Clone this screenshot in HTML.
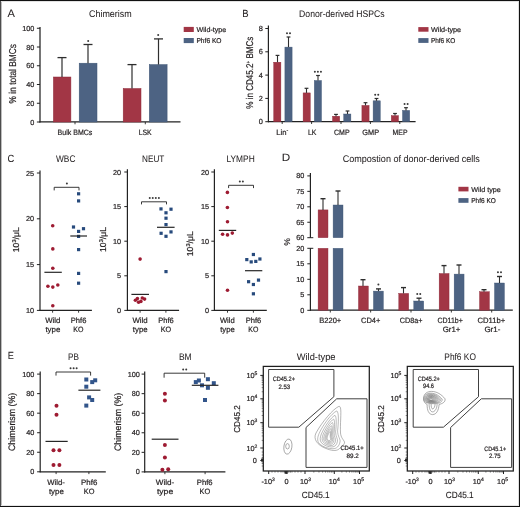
<!DOCTYPE html>
<html><head><meta charset="utf-8"><title>Figure</title>
<style>
html,body{margin:0;padding:0;background:#fff;}
body{width:520px;height:507px;overflow:hidden;}
svg{display:block;font-family:"Liberation Sans", sans-serif;}
text{stroke:#231f20;stroke-width:0.2px;}
text.mid{stroke-width:0.12px;}
text.big{stroke-width:0.05px;}
svg{will-change:transform;text-rendering:geometricPrecision;}
</style></head>
<body>
<svg width="520" height="507" viewBox="0 0 520 507">
<rect x="0" y="0" width="520" height="507" fill="#fff"/>
<text x="7.46" y="16.70" font-size="10.8" fill="#231f20" textLength="7.38" lengthAdjust="spacingAndGlyphs" class="big" >A</text>
<text x="89.02" y="16.90" font-size="9.6" fill="#231f20" textLength="42.56" lengthAdjust="spacingAndGlyphs" class="big" >Chimerism</text>
<line x1="36.90" y1="122.00" x2="40.00" y2="122.00" stroke="#222" stroke-width="1.0" />
<text x="34.40" y="124.59" font-size="7.3" fill="#231f20" text-anchor="end" >0</text>
<line x1="36.90" y1="103.25" x2="40.00" y2="103.25" stroke="#222" stroke-width="1.0" />
<text x="34.40" y="105.84" font-size="7.3" fill="#231f20" text-anchor="end" >20</text>
<line x1="36.90" y1="84.50" x2="40.00" y2="84.50" stroke="#222" stroke-width="1.0" />
<text x="34.40" y="87.09" font-size="7.3" fill="#231f20" text-anchor="end" >40</text>
<line x1="36.90" y1="65.75" x2="40.00" y2="65.75" stroke="#222" stroke-width="1.0" />
<text x="34.40" y="68.34" font-size="7.3" fill="#231f20" text-anchor="end" >60</text>
<line x1="36.90" y1="47.00" x2="40.00" y2="47.00" stroke="#222" stroke-width="1.0" />
<text x="34.40" y="49.59" font-size="7.3" fill="#231f20" text-anchor="end" >80</text>
<line x1="36.90" y1="28.25" x2="40.00" y2="28.25" stroke="#222" stroke-width="1.0" />
<text x="34.40" y="30.84" font-size="7.3" fill="#231f20" text-anchor="end" >100</text>
<line x1="40.00" y1="27.00" x2="40.00" y2="122.50" stroke="#222" stroke-width="1.25" />
<line x1="39.40" y1="121.90" x2="180.50" y2="121.90" stroke="#222" stroke-width="1.25" />
<line x1="75.00" y1="122.00" x2="75.00" y2="124.30" stroke="#222" stroke-width="0.9" />
<line x1="145.30" y1="122.00" x2="145.30" y2="124.30" stroke="#222" stroke-width="0.9" />
<rect x="53.40" y="77.00" width="17.50" height="45.00" fill="#a23645" stroke="#8d2a3a" stroke-width="0.5"/>
<rect x="79.20" y="63.20" width="17.80" height="58.80" fill="#4d6383" stroke="#3d5474" stroke-width="0.5"/>
<rect x="123.20" y="88.50" width="17.80" height="33.50" fill="#a23645" stroke="#8d2a3a" stroke-width="0.5"/>
<rect x="149.30" y="64.60" width="17.80" height="57.40" fill="#4d6383" stroke="#3d5474" stroke-width="0.5"/>
<line x1="62.00" y1="57.60" x2="62.00" y2="77.00" stroke="#2e2e2e" stroke-width="1.2" />
<line x1="57.50" y1="57.60" x2="66.50" y2="57.60" stroke="#2e2e2e" stroke-width="1.3" />
<line x1="88.00" y1="44.50" x2="88.00" y2="63.20" stroke="#2e2e2e" stroke-width="1.2" />
<line x1="83.50" y1="44.50" x2="92.50" y2="44.50" stroke="#2e2e2e" stroke-width="1.3" />
<line x1="132.00" y1="64.60" x2="132.00" y2="88.50" stroke="#2e2e2e" stroke-width="1.2" />
<line x1="127.50" y1="64.60" x2="136.50" y2="64.60" stroke="#2e2e2e" stroke-width="1.3" />
<line x1="158.50" y1="38.90" x2="158.50" y2="64.60" stroke="#2e2e2e" stroke-width="1.2" />
<line x1="154.00" y1="38.90" x2="163.00" y2="38.90" stroke="#2e2e2e" stroke-width="1.3" />
<circle cx="88.20" cy="41.00" r="1.0" fill="#3a3a3a"/>
<circle cx="158.20" cy="35.10" r="1.0" fill="#3a3a3a"/>
<text x="57.62" y="134.70" font-size="7.7" fill="#231f20" textLength="34.77" lengthAdjust="spacingAndGlyphs" >Bulk BMCs</text>
<text x="138.72" y="134.70" font-size="7.7" fill="#231f20" textLength="12.97" lengthAdjust="spacingAndGlyphs" >LSK</text>
<rect x="183.70" y="26.90" width="10.10" height="5.10" fill="#a23645"/>
<rect x="183.70" y="38.00" width="10.10" height="5.10" fill="#4d6383"/>
<text x="196.45" y="31.70" font-size="7" fill="#231f20" textLength="29.90" lengthAdjust="spacingAndGlyphs" >Wild-type</text>
<text x="196.45" y="42.80" font-size="7" fill="#231f20" textLength="25.10" lengthAdjust="spacingAndGlyphs" >Phf6 KO</text>
<text x="0" y="0" font-size="10.0" fill="#231f20" text-anchor="middle" textLength="59.40" lengthAdjust="spacingAndGlyphs" transform="translate(16.40 73.70) rotate(-90)">% in total BMCs</text>
<text x="242.18" y="16.60" font-size="10.4" fill="#231f20" textLength="6.34" lengthAdjust="spacingAndGlyphs" class="big" >B</text>
<text x="299.12" y="17.30" font-size="9.6" fill="#231f20" textLength="85.56" lengthAdjust="spacingAndGlyphs" class="big" >Donor-derived HSPCs</text>
<line x1="265.30" y1="121.70" x2="268.40" y2="121.70" stroke="#222" stroke-width="1.0" />
<text x="262.80" y="124.33" font-size="7.4" fill="#231f20" text-anchor="end" >0</text>
<line x1="265.30" y1="98.40" x2="268.40" y2="98.40" stroke="#222" stroke-width="1.0" />
<text x="262.80" y="101.03" font-size="7.4" fill="#231f20" text-anchor="end" >2</text>
<line x1="265.30" y1="75.10" x2="268.40" y2="75.10" stroke="#222" stroke-width="1.0" />
<text x="262.80" y="77.73" font-size="7.4" fill="#231f20" text-anchor="end" >4</text>
<line x1="265.30" y1="51.80" x2="268.40" y2="51.80" stroke="#222" stroke-width="1.0" />
<text x="262.80" y="54.43" font-size="7.4" fill="#231f20" text-anchor="end" >6</text>
<line x1="265.30" y1="28.50" x2="268.40" y2="28.50" stroke="#222" stroke-width="1.0" />
<text x="262.80" y="31.13" font-size="7.4" fill="#231f20" text-anchor="end" >8</text>
<line x1="268.40" y1="25.50" x2="268.40" y2="122.20" stroke="#222" stroke-width="1.2" />
<line x1="268.00" y1="121.70" x2="415.60" y2="121.70" stroke="#222" stroke-width="1.2" />
<line x1="282.20" y1="121.70" x2="282.20" y2="124.00" stroke="#222" stroke-width="0.9" />
<rect x="273.70" y="62.20" width="7.20" height="59.50" fill="#a23645" stroke="#8d2a3a" stroke-width="0.4"/>
<rect x="284.90" y="47.10" width="7.20" height="74.60" fill="#4d6383" stroke="#3d5474" stroke-width="0.4"/>
<line x1="277.50" y1="55.40" x2="277.50" y2="62.20" stroke="#2e2e2e" stroke-width="1.1" />
<line x1="275.60" y1="55.40" x2="279.40" y2="55.40" stroke="#2e2e2e" stroke-width="1.2100000000000002" />
<line x1="288.50" y1="37.00" x2="288.50" y2="47.10" stroke="#2e2e2e" stroke-width="1.1" />
<line x1="286.60" y1="37.00" x2="290.40" y2="37.00" stroke="#2e2e2e" stroke-width="1.2100000000000002" />
<circle cx="286.98" cy="33.20" r="1.0" fill="#3a3a3a"/>
<circle cx="290.03" cy="33.20" r="1.0" fill="#3a3a3a"/>
<line x1="311.60" y1="121.70" x2="311.60" y2="124.00" stroke="#222" stroke-width="0.9" />
<rect x="303.10" y="92.90" width="7.20" height="28.80" fill="#a23645" stroke="#8d2a3a" stroke-width="0.4"/>
<rect x="314.30" y="80.50" width="7.20" height="41.20" fill="#4d6383" stroke="#3d5474" stroke-width="0.4"/>
<line x1="306.50" y1="88.30" x2="306.50" y2="92.90" stroke="#2e2e2e" stroke-width="1.1" />
<line x1="304.60" y1="88.30" x2="308.40" y2="88.30" stroke="#2e2e2e" stroke-width="1.2100000000000002" />
<line x1="318.00" y1="75.50" x2="318.00" y2="80.50" stroke="#2e2e2e" stroke-width="1.1" />
<line x1="316.10" y1="75.50" x2="319.90" y2="75.50" stroke="#2e2e2e" stroke-width="1.2100000000000002" />
<circle cx="314.85" cy="71.70" r="1.0" fill="#3a3a3a"/>
<circle cx="317.90" cy="71.70" r="1.0" fill="#3a3a3a"/>
<circle cx="320.95" cy="71.70" r="1.0" fill="#3a3a3a"/>
<line x1="341.00" y1="121.70" x2="341.00" y2="124.00" stroke="#222" stroke-width="0.9" />
<rect x="332.50" y="116.20" width="7.20" height="5.50" fill="#a23645" stroke="#8d2a3a" stroke-width="0.4"/>
<rect x="343.70" y="114.00" width="7.20" height="7.70" fill="#4d6383" stroke="#3d5474" stroke-width="0.4"/>
<line x1="336.00" y1="114.40" x2="336.00" y2="116.20" stroke="#2e2e2e" stroke-width="1.1" />
<line x1="334.10" y1="114.40" x2="337.90" y2="114.40" stroke="#2e2e2e" stroke-width="1.2100000000000002" />
<line x1="347.50" y1="111.00" x2="347.50" y2="114.00" stroke="#2e2e2e" stroke-width="1.1" />
<line x1="345.60" y1="111.00" x2="349.40" y2="111.00" stroke="#2e2e2e" stroke-width="1.2100000000000002" />
<line x1="370.40" y1="121.70" x2="370.40" y2="124.00" stroke="#222" stroke-width="0.9" />
<rect x="361.90" y="105.40" width="7.20" height="16.30" fill="#a23645" stroke="#8d2a3a" stroke-width="0.4"/>
<rect x="373.10" y="100.80" width="7.20" height="20.90" fill="#4d6383" stroke="#3d5474" stroke-width="0.4"/>
<line x1="365.50" y1="102.70" x2="365.50" y2="105.40" stroke="#2e2e2e" stroke-width="1.1" />
<line x1="363.60" y1="102.70" x2="367.40" y2="102.70" stroke="#2e2e2e" stroke-width="1.2100000000000002" />
<line x1="376.50" y1="98.50" x2="376.50" y2="100.80" stroke="#2e2e2e" stroke-width="1.1" />
<line x1="374.60" y1="98.50" x2="378.40" y2="98.50" stroke="#2e2e2e" stroke-width="1.2100000000000002" />
<circle cx="375.18" cy="94.70" r="1.0" fill="#3a3a3a"/>
<circle cx="378.23" cy="94.70" r="1.0" fill="#3a3a3a"/>
<line x1="399.80" y1="121.70" x2="399.80" y2="124.00" stroke="#222" stroke-width="0.9" />
<rect x="391.30" y="115.60" width="7.20" height="6.10" fill="#a23645" stroke="#8d2a3a" stroke-width="0.4"/>
<rect x="402.50" y="110.40" width="7.20" height="11.30" fill="#4d6383" stroke="#3d5474" stroke-width="0.4"/>
<line x1="395.00" y1="113.50" x2="395.00" y2="115.60" stroke="#2e2e2e" stroke-width="1.1" />
<line x1="393.10" y1="113.50" x2="396.90" y2="113.50" stroke="#2e2e2e" stroke-width="1.2100000000000002" />
<line x1="406.00" y1="107.70" x2="406.00" y2="110.40" stroke="#2e2e2e" stroke-width="1.1" />
<line x1="404.10" y1="107.70" x2="407.90" y2="107.70" stroke="#2e2e2e" stroke-width="1.2100000000000002" />
<circle cx="404.57" cy="103.90" r="1.0" fill="#3a3a3a"/>
<circle cx="407.62" cy="103.90" r="1.0" fill="#3a3a3a"/>
<text x="276.2" y="134.6" font-size="7.7" fill="#231f20">Lin<tspan font-size="5.2" dy="-2.6">-</tspan></text>
<text x="307.92" y="134.60" font-size="7.7" fill="#231f20" textLength="8.47" lengthAdjust="spacingAndGlyphs" >LK</text>
<text x="334.01" y="134.60" font-size="7.7" fill="#231f20" textLength="15.57" lengthAdjust="spacingAndGlyphs" >CMP</text>
<text x="362.31" y="134.60" font-size="7.7" fill="#231f20" textLength="16.77" lengthAdjust="spacingAndGlyphs" >GMP</text>
<text x="392.62" y="134.60" font-size="7.7" fill="#231f20" textLength="14.87" lengthAdjust="spacingAndGlyphs" >MEP</text>
<rect x="418.30" y="27.10" width="10.20" height="4.60" fill="#a23645"/>
<rect x="418.30" y="38.10" width="10.20" height="4.80" fill="#4d6383"/>
<text x="430.95" y="31.70" font-size="7" fill="#231f20" textLength="30.20" lengthAdjust="spacingAndGlyphs" >Wild-type</text>
<text x="430.95" y="42.70" font-size="7" fill="#231f20" textLength="24.40" lengthAdjust="spacingAndGlyphs" >Phf6 KO</text>
<text x="0" y="0" font-size="9.8" fill="#231f20" text-anchor="middle" textLength="72.2" lengthAdjust="spacingAndGlyphs" transform="translate(253.3 72.7) rotate(-90)">% in CD45.2<tspan font-size="5.5" dy="-3.2">+</tspan><tspan dy="3.2"> BMCs</tspan></text>
<text x="7.48" y="161.70" font-size="10.4" fill="#231f20" textLength="6.84" lengthAdjust="spacingAndGlyphs" class="big" >C</text>
<text x="56.02" y="162.00" font-size="9.6" fill="#231f20" textLength="19.36" lengthAdjust="spacingAndGlyphs" class="big" >WBC</text>
<text x="142.12" y="162.00" font-size="9.5" fill="#231f20" textLength="22.25" lengthAdjust="spacingAndGlyphs" class="big" >NEUT</text>
<text x="226.53" y="162.00" font-size="9.5" fill="#231f20" textLength="28.15" lengthAdjust="spacingAndGlyphs" class="big" >LYMPH</text>
<line x1="36.90" y1="310.40" x2="40.00" y2="310.40" stroke="#222" stroke-width="1.0" />
<text x="34.10" y="312.99" font-size="7.3" fill="#231f20" text-anchor="end" >10</text>
<line x1="36.90" y1="264.60" x2="40.00" y2="264.60" stroke="#222" stroke-width="1.0" />
<text x="34.10" y="267.19" font-size="7.3" fill="#231f20" text-anchor="end" >15</text>
<line x1="36.90" y1="218.80" x2="40.00" y2="218.80" stroke="#222" stroke-width="1.0" />
<text x="34.10" y="221.39" font-size="7.3" fill="#231f20" text-anchor="end" >20</text>
<line x1="36.90" y1="173.00" x2="40.00" y2="173.00" stroke="#222" stroke-width="1.0" />
<text x="34.10" y="175.59" font-size="7.3" fill="#231f20" text-anchor="end" >25</text>
<line x1="40.00" y1="170.50" x2="40.00" y2="310.90" stroke="#222" stroke-width="1.2" />
<line x1="39.50" y1="310.40" x2="91.90" y2="310.40" stroke="#222" stroke-width="1.2" />
<line x1="52.60" y1="310.40" x2="52.60" y2="312.70" stroke="#222" stroke-width="0.9" />
<line x1="78.60" y1="310.40" x2="78.60" y2="312.70" stroke="#222" stroke-width="0.9" />
<polyline points="54.20,190.40 54.20,187.30 79.00,187.30 79.00,190.40" fill="none" stroke="#222" stroke-width="0.9"/>
<circle cx="66.90" cy="183.50" r="1.0" fill="#3a3a3a"/>
<circle cx="52.70" cy="225.80" r="1.8" fill="#9e1b32"/>
<circle cx="52.80" cy="248.90" r="1.8" fill="#9e1b32"/>
<circle cx="52.80" cy="268.30" r="1.8" fill="#9e1b32"/>
<circle cx="47.90" cy="286.30" r="1.8" fill="#9e1b32"/>
<circle cx="52.80" cy="287.10" r="1.8" fill="#9e1b32"/>
<circle cx="57.80" cy="285.00" r="1.8" fill="#9e1b32"/>
<circle cx="52.80" cy="305.70" r="1.8" fill="#9e1b32"/>
<rect x="77.00" y="192.20" width="3.2" height="3.2" fill="#274a7c"/>
<rect x="77.00" y="199.30" width="3.2" height="3.2" fill="#274a7c"/>
<rect x="71.90" y="225.40" width="3.2" height="3.2" fill="#274a7c"/>
<rect x="81.90" y="227.10" width="3.2" height="3.2" fill="#274a7c"/>
<rect x="77.00" y="229.80" width="3.2" height="3.2" fill="#274a7c"/>
<rect x="77.00" y="234.80" width="3.2" height="3.2" fill="#274a7c"/>
<rect x="77.00" y="248.00" width="3.2" height="3.2" fill="#274a7c"/>
<rect x="77.00" y="271.80" width="3.2" height="3.2" fill="#274a7c"/>
<rect x="77.00" y="281.60" width="3.2" height="3.2" fill="#274a7c"/>
<line x1="44.40" y1="272.30" x2="61.80" y2="272.30" stroke="#262626" stroke-width="1.2" />
<line x1="70.30" y1="236.00" x2="87.00" y2="236.00" stroke="#262626" stroke-width="1.2" />
<text x="45.22" y="323.10" font-size="7.7" fill="#231f20" textLength="15.17" lengthAdjust="spacingAndGlyphs" >Wild</text>
<text x="45.41" y="331.90" font-size="7.7" fill="#231f20" textLength="14.97" lengthAdjust="spacingAndGlyphs" >type</text>
<text x="70.81" y="323.10" font-size="7.7" fill="#231f20" textLength="15.57" lengthAdjust="spacingAndGlyphs" >Phf6</text>
<text x="73.31" y="331.90" font-size="7.7" fill="#231f20" textLength="10.17" lengthAdjust="spacingAndGlyphs" >KO</text>
<text x="0" y="0" font-size="8.7" fill="#231f20" text-anchor="middle" transform="translate(19.20 239.70) rotate(-90)">10<tspan font-size="5.65" dy="-3.31">3</tspan><tspan dy="3.31">/μL</tspan></text>
<line x1="124.30" y1="310.40" x2="127.40" y2="310.40" stroke="#222" stroke-width="1.0" />
<text x="121.10" y="312.99" font-size="7.3" fill="#231f20" text-anchor="end" >0</text>
<line x1="124.30" y1="275.80" x2="127.40" y2="275.80" stroke="#222" stroke-width="1.0" />
<text x="121.10" y="278.39" font-size="7.3" fill="#231f20" text-anchor="end" >5</text>
<line x1="124.30" y1="241.20" x2="127.40" y2="241.20" stroke="#222" stroke-width="1.0" />
<text x="121.10" y="243.79" font-size="7.3" fill="#231f20" text-anchor="end" >10</text>
<line x1="124.30" y1="206.60" x2="127.40" y2="206.60" stroke="#222" stroke-width="1.0" />
<text x="121.10" y="209.19" font-size="7.3" fill="#231f20" text-anchor="end" >15</text>
<line x1="124.30" y1="172.00" x2="127.40" y2="172.00" stroke="#222" stroke-width="1.0" />
<text x="121.10" y="174.59" font-size="7.3" fill="#231f20" text-anchor="end" >20</text>
<line x1="127.40" y1="169.30" x2="127.40" y2="310.90" stroke="#222" stroke-width="1.2" />
<line x1="126.90" y1="310.40" x2="179.10" y2="310.40" stroke="#222" stroke-width="1.2" />
<line x1="140.10" y1="310.40" x2="140.10" y2="312.70" stroke="#222" stroke-width="0.9" />
<line x1="165.90" y1="310.40" x2="165.90" y2="312.70" stroke="#222" stroke-width="0.9" />
<polyline points="141.50,204.40 141.50,201.80 166.50,201.80 166.50,204.40" fill="none" stroke="#222" stroke-width="0.9"/>
<circle cx="149.73" cy="198.00" r="1.0" fill="#3a3a3a"/>
<circle cx="152.78" cy="198.00" r="1.0" fill="#3a3a3a"/>
<circle cx="155.83" cy="198.00" r="1.0" fill="#3a3a3a"/>
<circle cx="158.88" cy="198.00" r="1.0" fill="#3a3a3a"/>
<circle cx="140.10" cy="259.10" r="1.8" fill="#9e1b32"/>
<circle cx="135.40" cy="300.30" r="1.8" fill="#9e1b32"/>
<circle cx="137.40" cy="298.60" r="1.8" fill="#9e1b32"/>
<circle cx="138.60" cy="302.30" r="1.8" fill="#9e1b32"/>
<circle cx="140.90" cy="301.40" r="1.8" fill="#9e1b32"/>
<circle cx="142.30" cy="298.00" r="1.8" fill="#9e1b32"/>
<circle cx="144.60" cy="299.10" r="1.8" fill="#9e1b32"/>
<rect x="159.40" y="207.30" width="3.2" height="3.2" fill="#274a7c"/>
<rect x="169.40" y="207.60" width="3.2" height="3.2" fill="#274a7c"/>
<rect x="164.40" y="211.20" width="3.2" height="3.2" fill="#274a7c"/>
<rect x="164.40" y="216.60" width="3.2" height="3.2" fill="#274a7c"/>
<rect x="164.40" y="223.00" width="3.2" height="3.2" fill="#274a7c"/>
<rect x="169.40" y="230.30" width="3.2" height="3.2" fill="#274a7c"/>
<rect x="159.50" y="231.70" width="3.2" height="3.2" fill="#274a7c"/>
<rect x="164.40" y="234.70" width="3.2" height="3.2" fill="#274a7c"/>
<rect x="164.40" y="270.00" width="3.2" height="3.2" fill="#274a7c"/>
<line x1="131.40" y1="294.40" x2="149.00" y2="294.40" stroke="#262626" stroke-width="1.2" />
<line x1="157.00" y1="227.30" x2="174.60" y2="227.30" stroke="#262626" stroke-width="1.2" />
<text x="132.42" y="323.10" font-size="7.7" fill="#231f20" textLength="15.27" lengthAdjust="spacingAndGlyphs" >Wild</text>
<text x="132.81" y="331.90" font-size="7.7" fill="#231f20" textLength="14.87" lengthAdjust="spacingAndGlyphs" >type</text>
<text x="158.22" y="323.10" font-size="7.7" fill="#231f20" textLength="15.47" lengthAdjust="spacingAndGlyphs" >Phf6</text>
<text x="160.72" y="331.90" font-size="7.7" fill="#231f20" textLength="10.47" lengthAdjust="spacingAndGlyphs" >KO</text>
<text x="0" y="0" font-size="8.7" fill="#231f20" text-anchor="middle" transform="translate(106.40 239.50) rotate(-90)">10<tspan font-size="5.65" dy="-3.31">3</tspan><tspan dy="3.31">/μL</tspan></text>
<line x1="211.30" y1="310.40" x2="214.40" y2="310.40" stroke="#222" stroke-width="1.0" />
<text x="209.00" y="312.99" font-size="7.3" fill="#231f20" text-anchor="end" >0</text>
<line x1="211.30" y1="275.80" x2="214.40" y2="275.80" stroke="#222" stroke-width="1.0" />
<text x="209.00" y="278.39" font-size="7.3" fill="#231f20" text-anchor="end" >5</text>
<line x1="211.30" y1="241.20" x2="214.40" y2="241.20" stroke="#222" stroke-width="1.0" />
<text x="209.00" y="243.79" font-size="7.3" fill="#231f20" text-anchor="end" >10</text>
<line x1="211.30" y1="206.60" x2="214.40" y2="206.60" stroke="#222" stroke-width="1.0" />
<text x="209.00" y="209.19" font-size="7.3" fill="#231f20" text-anchor="end" >15</text>
<line x1="211.30" y1="172.00" x2="214.40" y2="172.00" stroke="#222" stroke-width="1.0" />
<text x="209.00" y="174.59" font-size="7.3" fill="#231f20" text-anchor="end" >20</text>
<line x1="214.40" y1="169.30" x2="214.40" y2="310.90" stroke="#222" stroke-width="1.2" />
<line x1="213.90" y1="310.40" x2="266.80" y2="310.40" stroke="#222" stroke-width="1.2" />
<line x1="227.50" y1="310.40" x2="227.50" y2="312.70" stroke="#222" stroke-width="0.9" />
<line x1="253.40" y1="310.40" x2="253.40" y2="312.70" stroke="#222" stroke-width="0.9" />
<polyline points="228.60,188.10 228.60,185.30 253.50,185.30 253.50,188.10" fill="none" stroke="#222" stroke-width="0.9"/>
<circle cx="239.83" cy="181.50" r="1.0" fill="#3a3a3a"/>
<circle cx="242.88" cy="181.50" r="1.0" fill="#3a3a3a"/>
<circle cx="227.40" cy="192.40" r="1.8" fill="#9e1b32"/>
<circle cx="227.40" cy="207.50" r="1.8" fill="#9e1b32"/>
<circle cx="227.50" cy="221.70" r="1.8" fill="#9e1b32"/>
<circle cx="222.60" cy="234.20" r="1.8" fill="#9e1b32"/>
<circle cx="227.50" cy="234.90" r="1.8" fill="#9e1b32"/>
<circle cx="232.30" cy="233.10" r="1.8" fill="#9e1b32"/>
<circle cx="227.50" cy="290.20" r="1.8" fill="#9e1b32"/>
<rect x="251.80" y="252.90" width="3.2" height="3.2" fill="#274a7c"/>
<rect x="245.20" y="258.00" width="3.2" height="3.2" fill="#274a7c"/>
<rect x="249.60" y="260.30" width="3.2" height="3.2" fill="#274a7c"/>
<rect x="254.20" y="259.80" width="3.2" height="3.2" fill="#274a7c"/>
<rect x="258.30" y="257.40" width="3.2" height="3.2" fill="#274a7c"/>
<rect x="247.00" y="280.10" width="3.2" height="3.2" fill="#274a7c"/>
<rect x="251.80" y="282.90" width="3.2" height="3.2" fill="#274a7c"/>
<rect x="256.90" y="278.50" width="3.2" height="3.2" fill="#274a7c"/>
<rect x="251.80" y="292.20" width="3.2" height="3.2" fill="#274a7c"/>
<line x1="218.80" y1="230.40" x2="236.20" y2="230.40" stroke="#262626" stroke-width="1.2" />
<line x1="245.00" y1="270.70" x2="262.30" y2="270.70" stroke="#262626" stroke-width="1.2" />
<text x="219.92" y="323.10" font-size="7.7" fill="#231f20" textLength="14.87" lengthAdjust="spacingAndGlyphs" >Wild</text>
<text x="220.22" y="331.90" font-size="7.7" fill="#231f20" textLength="14.57" lengthAdjust="spacingAndGlyphs" >type</text>
<text x="245.72" y="323.10" font-size="7.7" fill="#231f20" textLength="15.57" lengthAdjust="spacingAndGlyphs" >Phf6</text>
<text x="248.31" y="331.90" font-size="7.7" fill="#231f20" textLength="10.07" lengthAdjust="spacingAndGlyphs" >KO</text>
<text x="0" y="0" font-size="8.7" fill="#231f20" text-anchor="middle" transform="translate(193.00 243.70) rotate(-90)">10<tspan font-size="5.65" dy="-3.31">3</tspan><tspan dy="3.31">/μL</tspan></text>
<text x="281.77" y="161.30" font-size="10.6" fill="#231f20" textLength="8.46" lengthAdjust="spacingAndGlyphs" class="big" >D</text>
<text x="342.72" y="161.70" font-size="9.6" fill="#231f20" textLength="137.06" lengthAdjust="spacingAndGlyphs" class="big" >Compostion of donor-derived cells</text>
<line x1="307.30" y1="222.25" x2="310.40" y2="222.25" stroke="#222" stroke-width="1.0" />
<text x="304.40" y="224.84" font-size="7.3" fill="#231f20" text-anchor="end" >65</text>
<line x1="307.30" y1="206.80" x2="310.40" y2="206.80" stroke="#222" stroke-width="1.0" />
<text x="304.40" y="209.39" font-size="7.3" fill="#231f20" text-anchor="end" >70</text>
<line x1="307.30" y1="191.35" x2="310.40" y2="191.35" stroke="#222" stroke-width="1.0" />
<text x="304.40" y="193.94" font-size="7.3" fill="#231f20" text-anchor="end" >75</text>
<line x1="307.30" y1="175.90" x2="310.40" y2="175.90" stroke="#222" stroke-width="1.0" />
<text x="304.40" y="178.49" font-size="7.3" fill="#231f20" text-anchor="end" >80</text>
<line x1="307.30" y1="310.30" x2="310.40" y2="310.30" stroke="#222" stroke-width="1.0" />
<text x="304.40" y="312.89" font-size="7.3" fill="#231f20" text-anchor="end" >0</text>
<line x1="307.30" y1="294.80" x2="310.40" y2="294.80" stroke="#222" stroke-width="1.0" />
<text x="304.40" y="297.39" font-size="7.3" fill="#231f20" text-anchor="end" >5</text>
<line x1="307.30" y1="279.30" x2="310.40" y2="279.30" stroke="#222" stroke-width="1.0" />
<text x="304.40" y="281.89" font-size="7.3" fill="#231f20" text-anchor="end" >10</text>
<line x1="307.30" y1="263.80" x2="310.40" y2="263.80" stroke="#222" stroke-width="1.0" />
<text x="304.40" y="266.39" font-size="7.3" fill="#231f20" text-anchor="end" >15</text>
<line x1="307.30" y1="237.70" x2="313.30" y2="237.70" stroke="#222" stroke-width="1.0" />
<text x="304.40" y="240.29" font-size="7.3" fill="#231f20" text-anchor="end" >60</text>
<line x1="307.30" y1="248.30" x2="313.30" y2="248.30" stroke="#222" stroke-width="1.0" />
<text x="304.40" y="250.89" font-size="7.3" fill="#231f20" text-anchor="end" >20</text>
<line x1="310.40" y1="173.10" x2="310.40" y2="237.70" stroke="#222" stroke-width="1.2" />
<line x1="310.40" y1="248.30" x2="310.40" y2="310.70" stroke="#222" stroke-width="1.2" />
<line x1="310.00" y1="310.20" x2="512.80" y2="310.20" stroke="#222" stroke-width="1.2" />
<line x1="330.30" y1="310.20" x2="330.30" y2="312.50" stroke="#222" stroke-width="0.9" />
<rect x="318.10" y="209.90" width="9.90" height="27.80" fill="#a23645" stroke="#8d2a3a" stroke-width="0.4"/>
<rect x="318.10" y="248.30" width="9.90" height="61.90" fill="#a23645" stroke="#8d2a3a" stroke-width="0.4"/>
<rect x="333.10" y="205.00" width="9.90" height="32.70" fill="#4d6383" stroke="#3d5474" stroke-width="0.4"/>
<rect x="333.10" y="248.30" width="9.90" height="61.90" fill="#4d6383" stroke="#3d5474" stroke-width="0.4"/>
<line x1="323.00" y1="198.70" x2="323.00" y2="209.90" stroke="#2e2e2e" stroke-width="1.1" />
<line x1="320.50" y1="198.70" x2="325.50" y2="198.70" stroke="#2e2e2e" stroke-width="1.4" />
<line x1="338.00" y1="191.00" x2="338.00" y2="205.00" stroke="#2e2e2e" stroke-width="1.1" />
<line x1="335.50" y1="191.00" x2="340.50" y2="191.00" stroke="#2e2e2e" stroke-width="1.4" />
<line x1="370.65" y1="310.20" x2="370.65" y2="312.50" stroke="#222" stroke-width="0.9" />
<rect x="358.45" y="286.00" width="9.90" height="24.20" fill="#a23645" stroke="#8d2a3a" stroke-width="0.4"/>
<rect x="373.45" y="291.10" width="9.90" height="19.10" fill="#4d6383" stroke="#3d5474" stroke-width="0.4"/>
<line x1="363.00" y1="279.70" x2="363.00" y2="286.00" stroke="#2e2e2e" stroke-width="1.1" />
<line x1="360.50" y1="279.70" x2="365.50" y2="279.70" stroke="#2e2e2e" stroke-width="1.4" />
<line x1="378.50" y1="288.90" x2="378.50" y2="291.10" stroke="#2e2e2e" stroke-width="1.1" />
<line x1="376.00" y1="288.90" x2="381.00" y2="288.90" stroke="#2e2e2e" stroke-width="1.4" />
<circle cx="378.40" cy="284.60" r="1.0" fill="#3a3a3a"/>
<line x1="411.00" y1="310.20" x2="411.00" y2="312.50" stroke="#222" stroke-width="0.9" />
<rect x="398.80" y="293.40" width="9.90" height="16.80" fill="#a23645" stroke="#8d2a3a" stroke-width="0.4"/>
<rect x="413.80" y="301.00" width="9.90" height="9.20" fill="#4d6383" stroke="#3d5474" stroke-width="0.4"/>
<line x1="403.50" y1="287.60" x2="403.50" y2="293.40" stroke="#2e2e2e" stroke-width="1.1" />
<line x1="401.00" y1="287.60" x2="406.00" y2="287.60" stroke="#2e2e2e" stroke-width="1.4" />
<line x1="419.00" y1="298.20" x2="419.00" y2="301.00" stroke="#2e2e2e" stroke-width="1.1" />
<line x1="416.50" y1="298.20" x2="421.50" y2="298.20" stroke="#2e2e2e" stroke-width="1.4" />
<circle cx="417.23" cy="293.90" r="1.0" fill="#3a3a3a"/>
<circle cx="420.28" cy="293.90" r="1.0" fill="#3a3a3a"/>
<line x1="451.35" y1="310.20" x2="451.35" y2="312.50" stroke="#222" stroke-width="0.9" />
<rect x="439.15" y="273.50" width="9.90" height="36.70" fill="#a23645" stroke="#8d2a3a" stroke-width="0.4"/>
<rect x="454.15" y="274.10" width="9.90" height="36.10" fill="#4d6383" stroke="#3d5474" stroke-width="0.4"/>
<line x1="444.00" y1="265.60" x2="444.00" y2="273.50" stroke="#2e2e2e" stroke-width="1.1" />
<line x1="441.50" y1="265.60" x2="446.50" y2="265.60" stroke="#2e2e2e" stroke-width="1.4" />
<line x1="459.00" y1="265.00" x2="459.00" y2="274.10" stroke="#2e2e2e" stroke-width="1.1" />
<line x1="456.50" y1="265.00" x2="461.50" y2="265.00" stroke="#2e2e2e" stroke-width="1.4" />
<line x1="491.70" y1="310.20" x2="491.70" y2="312.50" stroke="#222" stroke-width="0.9" />
<rect x="479.50" y="291.70" width="9.90" height="18.50" fill="#a23645" stroke="#8d2a3a" stroke-width="0.4"/>
<rect x="494.50" y="283.00" width="9.90" height="27.20" fill="#4d6383" stroke="#3d5474" stroke-width="0.4"/>
<line x1="484.00" y1="289.70" x2="484.00" y2="291.70" stroke="#2e2e2e" stroke-width="1.1" />
<line x1="481.50" y1="289.70" x2="486.50" y2="289.70" stroke="#2e2e2e" stroke-width="1.4" />
<line x1="499.50" y1="276.50" x2="499.50" y2="283.00" stroke="#2e2e2e" stroke-width="1.1" />
<line x1="497.00" y1="276.50" x2="502.00" y2="276.50" stroke="#2e2e2e" stroke-width="1.4" />
<circle cx="497.93" cy="272.20" r="1.0" fill="#3a3a3a"/>
<circle cx="500.98" cy="272.20" r="1.0" fill="#3a3a3a"/>
<text x="319.22" y="323.10" font-size="7.7" fill="#231f20" textLength="22.07" lengthAdjust="spacingAndGlyphs" >B220+</text>
<text x="361.01" y="323.10" font-size="7.7" fill="#231f20" textLength="19.37" lengthAdjust="spacingAndGlyphs" >CD4+</text>
<text x="399.81" y="323.10" font-size="7.7" fill="#231f20" textLength="22.77" lengthAdjust="spacingAndGlyphs" >CD8a+</text>
<text x="437.42" y="323.10" font-size="7.7" fill="#231f20" textLength="25.47" lengthAdjust="spacingAndGlyphs" >CD11b+</text>
<text x="442.72" y="332.30" font-size="7.7" fill="#231f20" textLength="17.77" lengthAdjust="spacingAndGlyphs" >Gr1+</text>
<text x="477.51" y="323.10" font-size="7.7" fill="#231f20" textLength="27.77" lengthAdjust="spacingAndGlyphs" >CD11b+</text>
<text x="484.42" y="332.30" font-size="7.7" fill="#231f20" textLength="15.97" lengthAdjust="spacingAndGlyphs" >Gr1-</text>
<rect x="458.40" y="186.80" width="10.10" height="4.60" fill="#a23645"/>
<rect x="458.40" y="198.10" width="10.10" height="4.70" fill="#4d6383"/>
<text x="471.25" y="191.70" font-size="7" fill="#231f20" textLength="29.60" lengthAdjust="spacingAndGlyphs" >Wild type</text>
<text x="471.25" y="202.80" font-size="7" fill="#231f20" textLength="24.50" lengthAdjust="spacingAndGlyphs" >Phf6 KO</text>
<text x="0" y="0" font-size="8.2" fill="#231f20" text-anchor="middle" transform="translate(289.60 241.80) rotate(-90)">%</text>
<text x="7.78" y="359.30" font-size="10.4" fill="#231f20" textLength="6.14" lengthAdjust="spacingAndGlyphs" class="big" >E</text>
<text x="68.12" y="359.70" font-size="9.6" fill="#231f20" textLength="10.86" lengthAdjust="spacingAndGlyphs" class="big" >PB</text>
<text x="178.92" y="360.10" font-size="9.6" fill="#231f20" textLength="12.76" lengthAdjust="spacingAndGlyphs" class="big" >BM</text>
<line x1="37.10" y1="471.80" x2="40.20" y2="471.80" stroke="#222" stroke-width="1.0" />
<text x="34.40" y="474.39" font-size="7.3" fill="#231f20" text-anchor="end" >0</text>
<line x1="37.10" y1="452.26" x2="40.20" y2="452.26" stroke="#222" stroke-width="1.0" />
<text x="34.40" y="454.85" font-size="7.3" fill="#231f20" text-anchor="end" >20</text>
<line x1="37.10" y1="432.72" x2="40.20" y2="432.72" stroke="#222" stroke-width="1.0" />
<text x="34.40" y="435.31" font-size="7.3" fill="#231f20" text-anchor="end" >40</text>
<line x1="37.10" y1="413.18" x2="40.20" y2="413.18" stroke="#222" stroke-width="1.0" />
<text x="34.40" y="415.77" font-size="7.3" fill="#231f20" text-anchor="end" >60</text>
<line x1="37.10" y1="393.64" x2="40.20" y2="393.64" stroke="#222" stroke-width="1.0" />
<text x="34.40" y="396.23" font-size="7.3" fill="#231f20" text-anchor="end" >80</text>
<line x1="37.10" y1="374.10" x2="40.20" y2="374.10" stroke="#222" stroke-width="1.0" />
<text x="34.40" y="376.69" font-size="7.3" fill="#231f20" text-anchor="end" >100</text>
<line x1="40.20" y1="371.60" x2="40.20" y2="472.30" stroke="#222" stroke-width="1.2" />
<line x1="39.70" y1="471.80" x2="105.80" y2="471.80" stroke="#222" stroke-width="1.2" />
<line x1="56.10" y1="471.80" x2="56.10" y2="474.10" stroke="#222" stroke-width="0.9" />
<line x1="88.90" y1="471.80" x2="88.90" y2="474.10" stroke="#222" stroke-width="0.9" />
<polyline points="56.00,375.60 56.00,372.00 90.60,372.00 90.60,375.60" fill="none" stroke="#222" stroke-width="0.9"/>
<circle cx="70.55" cy="368.20" r="1.0" fill="#3a3a3a"/>
<circle cx="73.60" cy="368.20" r="1.0" fill="#3a3a3a"/>
<circle cx="76.65" cy="368.20" r="1.0" fill="#3a3a3a"/>
<circle cx="56.50" cy="405.70" r="2.0" fill="#9e1b32"/>
<circle cx="56.50" cy="414.80" r="2.0" fill="#9e1b32"/>
<circle cx="53.50" cy="450.30" r="2.0" fill="#9e1b32"/>
<circle cx="59.40" cy="450.30" r="2.0" fill="#9e1b32"/>
<circle cx="53.50" cy="465.10" r="2.0" fill="#9e1b32"/>
<circle cx="59.40" cy="465.10" r="2.0" fill="#9e1b32"/>
<rect x="84.30" y="377.50" width="4.0" height="4.0" fill="#32558a"/>
<rect x="93.20" y="378.30" width="4.0" height="4.0" fill="#32558a"/>
<rect x="90.20" y="380.10" width="4.0" height="4.0" fill="#32558a"/>
<rect x="84.30" y="384.70" width="4.0" height="4.0" fill="#32558a"/>
<rect x="87.10" y="395.40" width="4.0" height="4.0" fill="#32558a"/>
<rect x="90.20" y="398.00" width="4.0" height="4.0" fill="#32558a"/>
<rect x="84.30" y="403.60" width="4.0" height="4.0" fill="#32558a"/>
<line x1="45.50" y1="441.40" x2="67.70" y2="441.40" stroke="#262626" stroke-width="1.2" />
<line x1="78.40" y1="390.20" x2="100.40" y2="390.20" stroke="#262626" stroke-width="1.2" />
<text x="47.22" y="485.20" font-size="7.7" fill="#231f20" textLength="17.67" lengthAdjust="spacingAndGlyphs" >Wild-</text>
<text x="48.91" y="493.60" font-size="7.7" fill="#231f20" textLength="14.97" lengthAdjust="spacingAndGlyphs" >type</text>
<text x="81.02" y="485.20" font-size="7.7" fill="#231f20" textLength="16.27" lengthAdjust="spacingAndGlyphs" >Phf6</text>
<text x="83.81" y="493.60" font-size="7.7" fill="#231f20" textLength="10.67" lengthAdjust="spacingAndGlyphs" >KO</text>
<text x="0" y="0" font-size="9.4" fill="#231f20" text-anchor="middle" textLength="58.20" lengthAdjust="spacingAndGlyphs" transform="translate(15.10 421.90) rotate(-90)">Chimerism (%)</text>
<line x1="141.60" y1="471.90" x2="144.70" y2="471.90" stroke="#222" stroke-width="1.0" />
<text x="139.90" y="474.49" font-size="7.3" fill="#231f20" text-anchor="end" >0</text>
<line x1="141.60" y1="452.34" x2="144.70" y2="452.34" stroke="#222" stroke-width="1.0" />
<text x="139.90" y="454.93" font-size="7.3" fill="#231f20" text-anchor="end" >20</text>
<line x1="141.60" y1="432.78" x2="144.70" y2="432.78" stroke="#222" stroke-width="1.0" />
<text x="139.90" y="435.37" font-size="7.3" fill="#231f20" text-anchor="end" >40</text>
<line x1="141.60" y1="413.22" x2="144.70" y2="413.22" stroke="#222" stroke-width="1.0" />
<text x="139.90" y="415.81" font-size="7.3" fill="#231f20" text-anchor="end" >60</text>
<line x1="141.60" y1="393.66" x2="144.70" y2="393.66" stroke="#222" stroke-width="1.0" />
<text x="139.90" y="396.25" font-size="7.3" fill="#231f20" text-anchor="end" >80</text>
<line x1="141.60" y1="374.10" x2="144.70" y2="374.10" stroke="#222" stroke-width="1.0" />
<text x="139.90" y="376.69" font-size="7.3" fill="#231f20" text-anchor="end" >100</text>
<line x1="144.70" y1="371.60" x2="144.70" y2="472.40" stroke="#222" stroke-width="1.2" />
<line x1="144.20" y1="471.90" x2="225.40" y2="471.90" stroke="#222" stroke-width="1.2" />
<line x1="164.90" y1="471.90" x2="164.90" y2="474.20" stroke="#222" stroke-width="0.9" />
<line x1="205.10" y1="471.90" x2="205.10" y2="474.20" stroke="#222" stroke-width="0.9" />
<polyline points="164.10,377.70 164.10,373.20 204.70,373.20 204.70,377.70" fill="none" stroke="#222" stroke-width="0.9"/>
<circle cx="183.17" cy="369.40" r="1.0" fill="#3a3a3a"/>
<circle cx="186.22" cy="369.40" r="1.0" fill="#3a3a3a"/>
<circle cx="164.90" cy="393.80" r="2.0" fill="#9e1b32"/>
<circle cx="164.90" cy="400.50" r="2.0" fill="#9e1b32"/>
<circle cx="164.90" cy="444.90" r="2.0" fill="#9e1b32"/>
<circle cx="164.90" cy="457.40" r="2.0" fill="#9e1b32"/>
<circle cx="162.40" cy="469.80" r="2.0" fill="#9e1b32"/>
<circle cx="168.20" cy="469.20" r="2.0" fill="#9e1b32"/>
<rect x="193.80" y="380.10" width="4.0" height="4.0" fill="#32558a"/>
<rect x="196.90" y="378.50" width="4.0" height="4.0" fill="#32558a"/>
<rect x="205.90" y="377.20" width="4.0" height="4.0" fill="#32558a"/>
<rect x="211.80" y="381.20" width="4.0" height="4.0" fill="#32558a"/>
<rect x="200.00" y="383.30" width="4.0" height="4.0" fill="#32558a"/>
<rect x="205.90" y="385.80" width="4.0" height="4.0" fill="#32558a"/>
<rect x="203.00" y="398.00" width="4.0" height="4.0" fill="#32558a"/>
<line x1="151.70" y1="439.20" x2="178.50" y2="439.20" stroke="#262626" stroke-width="1.2" />
<line x1="191.80" y1="385.30" x2="218.40" y2="385.30" stroke="#262626" stroke-width="1.2" />
<text x="155.81" y="485.20" font-size="7.7" fill="#231f20" textLength="18.47" lengthAdjust="spacingAndGlyphs" >Wild-</text>
<text x="156.92" y="493.60" font-size="7.7" fill="#231f20" textLength="16.27" lengthAdjust="spacingAndGlyphs" >type</text>
<text x="196.81" y="485.20" font-size="7.7" fill="#231f20" textLength="15.77" lengthAdjust="spacingAndGlyphs" >Phf6</text>
<text x="199.62" y="493.60" font-size="7.7" fill="#231f20" textLength="10.67" lengthAdjust="spacingAndGlyphs" >KO</text>
<text x="0" y="0" font-size="9.4" fill="#231f20" text-anchor="middle" textLength="58.20" lengthAdjust="spacingAndGlyphs" transform="translate(120.60 421.90) rotate(-90)">Chimerism (%)</text>
<text x="296.72" y="359.80" font-size="9.6" fill="#231f20" textLength="38.76" lengthAdjust="spacingAndGlyphs" class="big" >Wild-type</text>
<rect x="263.30" y="366.40" width="106.00" height="104.60" fill="none" stroke="#1e1e1e" stroke-width="1.25"/>
<line x1="260.30" y1="375.40" x2="263.30" y2="375.40" stroke="#222" stroke-width="1.0" />
<text x="257.30" y="378.00" font-size="7.3" fill="#231f20" text-anchor="end">10<tspan font-size="5.0" dy="-3.0">5</tspan></text>
<line x1="260.30" y1="398.80" x2="263.30" y2="398.80" stroke="#222" stroke-width="1.0" />
<text x="257.30" y="401.40" font-size="7.3" fill="#231f20" text-anchor="end">10<tspan font-size="5.0" dy="-3.0">4</tspan></text>
<line x1="260.30" y1="422.70" x2="263.30" y2="422.70" stroke="#222" stroke-width="1.0" />
<text x="257.30" y="425.30" font-size="7.3" fill="#231f20" text-anchor="end">10<tspan font-size="5.0" dy="-3.0">3</tspan></text>
<line x1="260.30" y1="448.00" x2="263.30" y2="448.00" stroke="#222" stroke-width="1.0" />
<text x="257.30" y="450.60" font-size="7.3" fill="#231f20" text-anchor="end">10<tspan font-size="5.0" dy="-3.0">2</tspan></text>
<text x="256.70" y="463.10" font-size="7.3" fill="#231f20" text-anchor="end" >0</text>
<line x1="260.30" y1="460.50" x2="263.30" y2="460.50" stroke="#222" stroke-width="1.0" />
<line x1="261.70" y1="440.38" x2="263.30" y2="440.38" stroke="#333" stroke-width="0.6" />
<line x1="261.70" y1="435.93" x2="263.30" y2="435.93" stroke="#333" stroke-width="0.6" />
<line x1="261.70" y1="432.77" x2="263.30" y2="432.77" stroke="#333" stroke-width="0.6" />
<line x1="261.70" y1="430.32" x2="263.30" y2="430.32" stroke="#333" stroke-width="0.6" />
<line x1="261.70" y1="428.31" x2="263.30" y2="428.31" stroke="#333" stroke-width="0.6" />
<line x1="261.70" y1="426.62" x2="263.30" y2="426.62" stroke="#333" stroke-width="0.6" />
<line x1="261.70" y1="425.15" x2="263.30" y2="425.15" stroke="#333" stroke-width="0.6" />
<line x1="261.70" y1="423.86" x2="263.30" y2="423.86" stroke="#333" stroke-width="0.6" />
<line x1="261.70" y1="415.51" x2="263.30" y2="415.51" stroke="#333" stroke-width="0.6" />
<line x1="261.70" y1="411.30" x2="263.30" y2="411.30" stroke="#333" stroke-width="0.6" />
<line x1="261.70" y1="408.31" x2="263.30" y2="408.31" stroke="#333" stroke-width="0.6" />
<line x1="261.70" y1="405.99" x2="263.30" y2="405.99" stroke="#333" stroke-width="0.6" />
<line x1="261.70" y1="404.10" x2="263.30" y2="404.10" stroke="#333" stroke-width="0.6" />
<line x1="261.70" y1="402.50" x2="263.30" y2="402.50" stroke="#333" stroke-width="0.6" />
<line x1="261.70" y1="401.12" x2="263.30" y2="401.12" stroke="#333" stroke-width="0.6" />
<line x1="261.70" y1="399.89" x2="263.30" y2="399.89" stroke="#333" stroke-width="0.6" />
<line x1="261.70" y1="391.76" x2="263.30" y2="391.76" stroke="#333" stroke-width="0.6" />
<line x1="261.70" y1="387.64" x2="263.30" y2="387.64" stroke="#333" stroke-width="0.6" />
<line x1="261.70" y1="384.71" x2="263.30" y2="384.71" stroke="#333" stroke-width="0.6" />
<line x1="261.70" y1="382.44" x2="263.30" y2="382.44" stroke="#333" stroke-width="0.6" />
<line x1="261.70" y1="380.59" x2="263.30" y2="380.59" stroke="#333" stroke-width="0.6" />
<line x1="261.70" y1="379.02" x2="263.30" y2="379.02" stroke="#333" stroke-width="0.6" />
<line x1="261.70" y1="377.67" x2="263.30" y2="377.67" stroke="#333" stroke-width="0.6" />
<line x1="261.70" y1="376.47" x2="263.30" y2="376.47" stroke="#333" stroke-width="0.6" />
<line x1="261.70" y1="452.00" x2="263.30" y2="452.00" stroke="#333" stroke-width="0.6" />
<line x1="261.70" y1="455.00" x2="263.30" y2="455.00" stroke="#333" stroke-width="0.6" />
<line x1="261.70" y1="457.50" x2="263.30" y2="457.50" stroke="#333" stroke-width="0.6" />
<line x1="261.70" y1="459.00" x2="263.30" y2="459.00" stroke="#333" stroke-width="0.6" />
<line x1="261.70" y1="462.00" x2="263.30" y2="462.00" stroke="#333" stroke-width="0.6" />
<line x1="261.70" y1="463.50" x2="263.30" y2="463.50" stroke="#333" stroke-width="0.6" />
<line x1="261.70" y1="466.00" x2="263.30" y2="466.00" stroke="#333" stroke-width="0.6" />
<line x1="268.70" y1="471.00" x2="268.70" y2="474.00" stroke="#222" stroke-width="1.0" />
<text x="261.40" y="484.3" font-size="7.3" fill="#231f20">-10<tspan font-size="5.0" dy="-3.0">3</tspan></text>
<line x1="286.80" y1="471.00" x2="286.80" y2="474.00" stroke="#222" stroke-width="1.0" />
<text x="284.50" y="484.30" font-size="7.3" fill="#231f20" >0</text>
<line x1="305.00" y1="471.00" x2="305.00" y2="474.00" stroke="#222" stroke-width="1.0" />
<text x="300.00" y="484.3" font-size="7.3" fill="#231f20">10<tspan font-size="5.0" dy="-3.0">3</tspan></text>
<line x1="334.30" y1="471.00" x2="334.30" y2="474.00" stroke="#222" stroke-width="1.0" />
<text x="328.80" y="484.3" font-size="7.3" fill="#231f20">10<tspan font-size="5.0" dy="-3.0">4</tspan></text>
<line x1="359.50" y1="471.00" x2="359.50" y2="474.00" stroke="#222" stroke-width="1.0" />
<text x="353.10" y="484.3" font-size="7.3" fill="#231f20">10<tspan font-size="5.0" dy="-3.0">5</tspan></text>
<line x1="313.82" y1="471.00" x2="313.82" y2="472.60" stroke="#333" stroke-width="0.6" />
<line x1="318.98" y1="471.00" x2="318.98" y2="472.60" stroke="#333" stroke-width="0.6" />
<line x1="322.64" y1="471.00" x2="322.64" y2="472.60" stroke="#333" stroke-width="0.6" />
<line x1="325.48" y1="471.00" x2="325.48" y2="472.60" stroke="#333" stroke-width="0.6" />
<line x1="327.80" y1="471.00" x2="327.80" y2="472.60" stroke="#333" stroke-width="0.6" />
<line x1="329.76" y1="471.00" x2="329.76" y2="472.60" stroke="#333" stroke-width="0.6" />
<line x1="331.46" y1="471.00" x2="331.46" y2="472.60" stroke="#333" stroke-width="0.6" />
<line x1="332.96" y1="471.00" x2="332.96" y2="472.60" stroke="#333" stroke-width="0.6" />
<line x1="341.89" y1="471.00" x2="341.89" y2="472.60" stroke="#333" stroke-width="0.6" />
<line x1="346.32" y1="471.00" x2="346.32" y2="472.60" stroke="#333" stroke-width="0.6" />
<line x1="349.47" y1="471.00" x2="349.47" y2="472.60" stroke="#333" stroke-width="0.6" />
<line x1="351.91" y1="471.00" x2="351.91" y2="472.60" stroke="#333" stroke-width="0.6" />
<line x1="353.91" y1="471.00" x2="353.91" y2="472.60" stroke="#333" stroke-width="0.6" />
<line x1="355.60" y1="471.00" x2="355.60" y2="472.60" stroke="#333" stroke-width="0.6" />
<line x1="357.06" y1="471.00" x2="357.06" y2="472.60" stroke="#333" stroke-width="0.6" />
<line x1="358.35" y1="471.00" x2="358.35" y2="472.60" stroke="#333" stroke-width="0.6" />
<line x1="272.00" y1="471.00" x2="272.00" y2="472.60" stroke="#333" stroke-width="0.6" />
<line x1="275.00" y1="471.00" x2="275.00" y2="472.60" stroke="#333" stroke-width="0.6" />
<line x1="278.00" y1="471.00" x2="278.00" y2="472.60" stroke="#333" stroke-width="0.6" />
<line x1="281.00" y1="471.00" x2="281.00" y2="472.60" stroke="#333" stroke-width="0.6" />
<line x1="283.00" y1="471.00" x2="283.00" y2="472.60" stroke="#333" stroke-width="0.6" />
<line x1="284.50" y1="471.00" x2="284.50" y2="472.60" stroke="#333" stroke-width="0.6" />
<line x1="285.50" y1="471.00" x2="285.50" y2="472.60" stroke="#333" stroke-width="0.6" />
<line x1="288.00" y1="471.00" x2="288.00" y2="472.60" stroke="#333" stroke-width="0.6" />
<line x1="289.00" y1="471.00" x2="289.00" y2="472.60" stroke="#333" stroke-width="0.6" />
<line x1="290.50" y1="471.00" x2="290.50" y2="472.60" stroke="#333" stroke-width="0.6" />
<line x1="292.00" y1="471.00" x2="292.00" y2="472.60" stroke="#333" stroke-width="0.6" />
<line x1="295.00" y1="471.00" x2="295.00" y2="472.60" stroke="#333" stroke-width="0.6" />
<line x1="298.00" y1="471.00" x2="298.00" y2="472.60" stroke="#333" stroke-width="0.6" />
<line x1="301.00" y1="471.00" x2="301.00" y2="472.60" stroke="#333" stroke-width="0.6" />
<rect x="261.10" y="458.6" width="2.2" height="3.0" fill="#2a2a2a"/>
<rect x="284.60" y="471.00" width="3.0" height="2.8" fill="#2a2a2a"/>
<text x="301.75" y="498.10" font-size="9.0" fill="#231f20" textLength="27.90" lengthAdjust="spacingAndGlyphs" class="mid" >CD45.1</text>
<text x="0" y="0" font-size="8.6" fill="#231f20" text-anchor="middle" textLength="27.6" lengthAdjust="spacingAndGlyphs" transform="translate(239.90 419.0) rotate(-90)">CD45.2</text>
<polygon points="268.60,369.50 333.90,369.50 333.90,396.70 298.80,427.20 268.60,427.20" fill="none" stroke="#404040" stroke-width="1.0" stroke-linejoin="miter"/>
<polygon points="336.70,398.80 367.00,398.80 367.00,467.40 306.00,467.40 306.00,427.50" fill="none" stroke="#404040" stroke-width="1.0" stroke-linejoin="miter"/>
<text x="272.69" y="381.20" font-size="6.3" fill="#231f20" textLength="22.23" lengthAdjust="spacingAndGlyphs" >CD45.2+</text>
<text x="278.38" y="389.00" font-size="6.3" fill="#231f20" textLength="11.73" lengthAdjust="spacingAndGlyphs" >2.53</text>
<text x="340.38" y="450.20" font-size="6.3" fill="#231f20" textLength="23.33" lengthAdjust="spacingAndGlyphs" >CD45.1+</text>
<text x="346.49" y="458.00" font-size="6.3" fill="#231f20" textLength="12.23" lengthAdjust="spacingAndGlyphs" >89.2</text>
<ellipse cx="287.9" cy="446.6" rx="4.0" ry="7.6" transform="rotate(8 287.9 446.6)" fill="none" stroke="#6a6a6a" stroke-width="0.55"/>
<ellipse cx="287.5" cy="446.3" rx="1.8" ry="2.7" transform="rotate(0 287.5 446.3)" fill="none" stroke="#6a6a6a" stroke-width="0.55"/>
<path d="M338.8,406.4 C333,409 322,422 316,433 C313,439 317,445 326,448.5 C331,450.5 336,451.5 339,449 C341,447 345,444.5 344.5,442 C343.5,439.5 341,438 340.5,433 C340,425 341.5,412 340.5,408 C340,406.5 339.5,406.2 338.8,406.4 Z" fill="none" stroke="#6a6a6a" stroke-width="0.5"/>
<path d="M10,-30 C13,-28 12,-15 11,-7 C11,0 15,3 14,6 C13,11 10,14 5,14 C0,14 -8,12 -12,8 C-15,5 -14,0 -12,-4 C-7,-14 3,-27 10,-30 Z" transform="translate(328.8 436.71) scale(0.800 0.860)" fill="none" stroke="#6a6a6a" stroke-width="0.45" vector-effect="non-scaling-stroke" />
<path d="M10,-30 C13,-28 12,-15 11,-7 C11,0 15,3 14,6 C13,11 10,14 5,14 C0,14 -8,12 -12,8 C-15,5 -14,0 -12,-4 C-7,-14 3,-27 10,-30 Z" transform="translate(328.8 436.92) scale(0.619 0.720)" fill="none" stroke="#6a6a6a" stroke-width="0.45" vector-effect="non-scaling-stroke" />
<path d="M10,-30 C13,-28 12,-15 11,-7 C11,0 15,3 14,6 C13,11 10,14 5,14 C0,14 -8,12 -12,8 C-15,5 -14,0 -12,-4 C-7,-14 3,-27 10,-30 Z" transform="translate(328.8 437.10) scale(0.480 0.600)" fill="none" stroke="#6a6a6a" stroke-width="0.45" vector-effect="non-scaling-stroke" />
<path d="M10,-30 C13,-28 12,-15 11,-7 C11,0 15,3 14,6 C13,11 10,14 5,14 C0,14 -8,12 -12,8 C-15,5 -14,0 -12,-4 C-7,-14 3,-27 10,-30 Z" transform="translate(328.8 437.26) scale(0.365 0.490)" fill="none" stroke="#6a6a6a" stroke-width="0.45" vector-effect="non-scaling-stroke" />
<path d="M10,-30 C13,-28 12,-15 11,-7 C11,0 15,3 14,6 C13,11 10,14 5,14 C0,14 -8,12 -12,8 C-15,5 -14,0 -12,-4 C-7,-14 3,-27 10,-30 Z" transform="translate(328.8 437.42) scale(0.271 0.390)" fill="none" stroke="#6a6a6a" stroke-width="0.45" vector-effect="non-scaling-stroke" />
<path d="M10,-30 C13,-28 12,-15 11,-7 C11,0 15,3 14,6 C13,11 10,14 5,14 C0,14 -8,12 -12,8 C-15,5 -14,0 -12,-4 C-7,-14 3,-27 10,-30 Z" transform="translate(328.8 437.55) scale(0.195 0.300)" fill="none" stroke="#6a6a6a" stroke-width="0.45" vector-effect="non-scaling-stroke" />
<path d="M10,-30 C13,-28 12,-15 11,-7 C11,0 15,3 14,6 C13,11 10,14 5,14 C0,14 -8,12 -12,8 C-15,5 -14,0 -12,-4 C-7,-14 3,-27 10,-30 Z" transform="translate(328.8 437.69) scale(0.127 0.210)" fill="none" stroke="#6a6a6a" stroke-width="0.45" vector-effect="non-scaling-stroke" />
<text x="444.32" y="359.80" font-size="9.6" fill="#231f20" textLength="31.56" lengthAdjust="spacingAndGlyphs" class="big" >Phf6 KO</text>
<rect x="407.30" y="366.40" width="106.00" height="104.60" fill="none" stroke="#1e1e1e" stroke-width="1.25"/>
<line x1="404.30" y1="375.40" x2="407.30" y2="375.40" stroke="#222" stroke-width="1.0" />
<text x="401.30" y="378.00" font-size="7.3" fill="#231f20" text-anchor="end">10<tspan font-size="5.0" dy="-3.0">5</tspan></text>
<line x1="404.30" y1="398.80" x2="407.30" y2="398.80" stroke="#222" stroke-width="1.0" />
<text x="401.30" y="401.40" font-size="7.3" fill="#231f20" text-anchor="end">10<tspan font-size="5.0" dy="-3.0">4</tspan></text>
<line x1="404.30" y1="422.70" x2="407.30" y2="422.70" stroke="#222" stroke-width="1.0" />
<text x="401.30" y="425.30" font-size="7.3" fill="#231f20" text-anchor="end">10<tspan font-size="5.0" dy="-3.0">3</tspan></text>
<line x1="404.30" y1="448.00" x2="407.30" y2="448.00" stroke="#222" stroke-width="1.0" />
<text x="401.30" y="450.60" font-size="7.3" fill="#231f20" text-anchor="end">10<tspan font-size="5.0" dy="-3.0">2</tspan></text>
<text x="400.70" y="463.10" font-size="7.3" fill="#231f20" text-anchor="end" >0</text>
<line x1="404.30" y1="460.50" x2="407.30" y2="460.50" stroke="#222" stroke-width="1.0" />
<line x1="405.70" y1="440.38" x2="407.30" y2="440.38" stroke="#333" stroke-width="0.6" />
<line x1="405.70" y1="435.93" x2="407.30" y2="435.93" stroke="#333" stroke-width="0.6" />
<line x1="405.70" y1="432.77" x2="407.30" y2="432.77" stroke="#333" stroke-width="0.6" />
<line x1="405.70" y1="430.32" x2="407.30" y2="430.32" stroke="#333" stroke-width="0.6" />
<line x1="405.70" y1="428.31" x2="407.30" y2="428.31" stroke="#333" stroke-width="0.6" />
<line x1="405.70" y1="426.62" x2="407.30" y2="426.62" stroke="#333" stroke-width="0.6" />
<line x1="405.70" y1="425.15" x2="407.30" y2="425.15" stroke="#333" stroke-width="0.6" />
<line x1="405.70" y1="423.86" x2="407.30" y2="423.86" stroke="#333" stroke-width="0.6" />
<line x1="405.70" y1="415.51" x2="407.30" y2="415.51" stroke="#333" stroke-width="0.6" />
<line x1="405.70" y1="411.30" x2="407.30" y2="411.30" stroke="#333" stroke-width="0.6" />
<line x1="405.70" y1="408.31" x2="407.30" y2="408.31" stroke="#333" stroke-width="0.6" />
<line x1="405.70" y1="405.99" x2="407.30" y2="405.99" stroke="#333" stroke-width="0.6" />
<line x1="405.70" y1="404.10" x2="407.30" y2="404.10" stroke="#333" stroke-width="0.6" />
<line x1="405.70" y1="402.50" x2="407.30" y2="402.50" stroke="#333" stroke-width="0.6" />
<line x1="405.70" y1="401.12" x2="407.30" y2="401.12" stroke="#333" stroke-width="0.6" />
<line x1="405.70" y1="399.89" x2="407.30" y2="399.89" stroke="#333" stroke-width="0.6" />
<line x1="405.70" y1="391.76" x2="407.30" y2="391.76" stroke="#333" stroke-width="0.6" />
<line x1="405.70" y1="387.64" x2="407.30" y2="387.64" stroke="#333" stroke-width="0.6" />
<line x1="405.70" y1="384.71" x2="407.30" y2="384.71" stroke="#333" stroke-width="0.6" />
<line x1="405.70" y1="382.44" x2="407.30" y2="382.44" stroke="#333" stroke-width="0.6" />
<line x1="405.70" y1="380.59" x2="407.30" y2="380.59" stroke="#333" stroke-width="0.6" />
<line x1="405.70" y1="379.02" x2="407.30" y2="379.02" stroke="#333" stroke-width="0.6" />
<line x1="405.70" y1="377.67" x2="407.30" y2="377.67" stroke="#333" stroke-width="0.6" />
<line x1="405.70" y1="376.47" x2="407.30" y2="376.47" stroke="#333" stroke-width="0.6" />
<line x1="405.70" y1="452.00" x2="407.30" y2="452.00" stroke="#333" stroke-width="0.6" />
<line x1="405.70" y1="455.00" x2="407.30" y2="455.00" stroke="#333" stroke-width="0.6" />
<line x1="405.70" y1="457.50" x2="407.30" y2="457.50" stroke="#333" stroke-width="0.6" />
<line x1="405.70" y1="459.00" x2="407.30" y2="459.00" stroke="#333" stroke-width="0.6" />
<line x1="405.70" y1="462.00" x2="407.30" y2="462.00" stroke="#333" stroke-width="0.6" />
<line x1="405.70" y1="463.50" x2="407.30" y2="463.50" stroke="#333" stroke-width="0.6" />
<line x1="405.70" y1="466.00" x2="407.30" y2="466.00" stroke="#333" stroke-width="0.6" />
<line x1="412.70" y1="471.00" x2="412.70" y2="474.00" stroke="#222" stroke-width="1.0" />
<text x="405.40" y="484.3" font-size="7.3" fill="#231f20">-10<tspan font-size="5.0" dy="-3.0">3</tspan></text>
<line x1="430.80" y1="471.00" x2="430.80" y2="474.00" stroke="#222" stroke-width="1.0" />
<text x="428.50" y="484.30" font-size="7.3" fill="#231f20" >0</text>
<line x1="449.00" y1="471.00" x2="449.00" y2="474.00" stroke="#222" stroke-width="1.0" />
<text x="444.00" y="484.3" font-size="7.3" fill="#231f20">10<tspan font-size="5.0" dy="-3.0">3</tspan></text>
<line x1="478.30" y1="471.00" x2="478.30" y2="474.00" stroke="#222" stroke-width="1.0" />
<text x="472.80" y="484.3" font-size="7.3" fill="#231f20">10<tspan font-size="5.0" dy="-3.0">4</tspan></text>
<line x1="503.50" y1="471.00" x2="503.50" y2="474.00" stroke="#222" stroke-width="1.0" />
<text x="497.10" y="484.3" font-size="7.3" fill="#231f20">10<tspan font-size="5.0" dy="-3.0">5</tspan></text>
<line x1="457.82" y1="471.00" x2="457.82" y2="472.60" stroke="#333" stroke-width="0.6" />
<line x1="462.98" y1="471.00" x2="462.98" y2="472.60" stroke="#333" stroke-width="0.6" />
<line x1="466.64" y1="471.00" x2="466.64" y2="472.60" stroke="#333" stroke-width="0.6" />
<line x1="469.48" y1="471.00" x2="469.48" y2="472.60" stroke="#333" stroke-width="0.6" />
<line x1="471.80" y1="471.00" x2="471.80" y2="472.60" stroke="#333" stroke-width="0.6" />
<line x1="473.76" y1="471.00" x2="473.76" y2="472.60" stroke="#333" stroke-width="0.6" />
<line x1="475.46" y1="471.00" x2="475.46" y2="472.60" stroke="#333" stroke-width="0.6" />
<line x1="476.96" y1="471.00" x2="476.96" y2="472.60" stroke="#333" stroke-width="0.6" />
<line x1="485.89" y1="471.00" x2="485.89" y2="472.60" stroke="#333" stroke-width="0.6" />
<line x1="490.32" y1="471.00" x2="490.32" y2="472.60" stroke="#333" stroke-width="0.6" />
<line x1="493.47" y1="471.00" x2="493.47" y2="472.60" stroke="#333" stroke-width="0.6" />
<line x1="495.91" y1="471.00" x2="495.91" y2="472.60" stroke="#333" stroke-width="0.6" />
<line x1="497.91" y1="471.00" x2="497.91" y2="472.60" stroke="#333" stroke-width="0.6" />
<line x1="499.60" y1="471.00" x2="499.60" y2="472.60" stroke="#333" stroke-width="0.6" />
<line x1="501.06" y1="471.00" x2="501.06" y2="472.60" stroke="#333" stroke-width="0.6" />
<line x1="502.35" y1="471.00" x2="502.35" y2="472.60" stroke="#333" stroke-width="0.6" />
<line x1="416.00" y1="471.00" x2="416.00" y2="472.60" stroke="#333" stroke-width="0.6" />
<line x1="419.00" y1="471.00" x2="419.00" y2="472.60" stroke="#333" stroke-width="0.6" />
<line x1="422.00" y1="471.00" x2="422.00" y2="472.60" stroke="#333" stroke-width="0.6" />
<line x1="425.00" y1="471.00" x2="425.00" y2="472.60" stroke="#333" stroke-width="0.6" />
<line x1="427.00" y1="471.00" x2="427.00" y2="472.60" stroke="#333" stroke-width="0.6" />
<line x1="428.50" y1="471.00" x2="428.50" y2="472.60" stroke="#333" stroke-width="0.6" />
<line x1="429.50" y1="471.00" x2="429.50" y2="472.60" stroke="#333" stroke-width="0.6" />
<line x1="432.00" y1="471.00" x2="432.00" y2="472.60" stroke="#333" stroke-width="0.6" />
<line x1="433.00" y1="471.00" x2="433.00" y2="472.60" stroke="#333" stroke-width="0.6" />
<line x1="434.50" y1="471.00" x2="434.50" y2="472.60" stroke="#333" stroke-width="0.6" />
<line x1="436.00" y1="471.00" x2="436.00" y2="472.60" stroke="#333" stroke-width="0.6" />
<line x1="439.00" y1="471.00" x2="439.00" y2="472.60" stroke="#333" stroke-width="0.6" />
<line x1="442.00" y1="471.00" x2="442.00" y2="472.60" stroke="#333" stroke-width="0.6" />
<line x1="445.00" y1="471.00" x2="445.00" y2="472.60" stroke="#333" stroke-width="0.6" />
<rect x="405.10" y="458.6" width="2.2" height="3.0" fill="#2a2a2a"/>
<rect x="428.60" y="471.00" width="3.0" height="2.8" fill="#2a2a2a"/>
<text x="445.75" y="498.10" font-size="9.0" fill="#231f20" textLength="27.90" lengthAdjust="spacingAndGlyphs" class="mid" >CD45.1</text>
<text x="0" y="0" font-size="8.6" fill="#231f20" text-anchor="middle" textLength="27.6" lengthAdjust="spacingAndGlyphs" transform="translate(383.90 419.0) rotate(-90)">CD45.2</text>
<polygon points="413.20,369.50 478.50,369.50 478.50,396.70 443.40,427.20 413.20,427.20" fill="none" stroke="#404040" stroke-width="1.0" stroke-linejoin="miter"/>
<polygon points="481.30,398.80 511.60,398.80 511.60,467.40 450.60,467.40 450.60,427.50" fill="none" stroke="#404040" stroke-width="1.0" stroke-linejoin="miter"/>
<text x="417.69" y="381.10" font-size="6.3" fill="#231f20" textLength="22.13" lengthAdjust="spacingAndGlyphs" >CD45.2+</text>
<text x="423.08" y="388.20" font-size="6.3" fill="#231f20" textLength="10.83" lengthAdjust="spacingAndGlyphs" >94.6</text>
<text x="484.19" y="450.70" font-size="6.3" fill="#231f20" textLength="21.93" lengthAdjust="spacingAndGlyphs" >CD45.1+</text>
<text x="488.88" y="458.10" font-size="6.3" fill="#231f20" textLength="11.73" lengthAdjust="spacingAndGlyphs" >2.75</text>
<path d="M-8,-0.5 C-8,-5.5 -4,-7.5 0,-7.5 C5,-7.5 10,-4.5 13.5,0 C14,3.5 10,5 7.5,5.5 C7,11.5 5,15.5 1,15.7 C-3,15.5 -4.5,11.5 -4.5,5.5 C-7,4.5 -8,2.5 -8,-0.5 Z" transform="translate(431.6 398.9)" fill="none" stroke="#6a6a6a" stroke-width="0.55"/>
<path d="M-8,0 C-8,-5 -4,-7 0,-7 C5,-7 10,-4 13,0 C13,4 8,5 3,5 C-2,5 -8,4 -8,0 Z" transform="translate(430.8 399.3) scale(0.88)" fill="none" stroke="#6a6a6a" stroke-width="0.5" vector-effect="non-scaling-stroke"/>
<path d="M-8,0 C-8,-5 -4,-7 0,-7 C5,-7 10,-4 13,0 C13,4 8,5 3,5 C-2,5 -8,4 -8,0 Z" transform="translate(430.8 399.3) scale(0.77)" fill="none" stroke="#6a6a6a" stroke-width="0.5" vector-effect="non-scaling-stroke"/>
<path d="M-8,0 C-8,-5 -4,-7 0,-7 C5,-7 10,-4 13,0 C13,4 8,5 3,5 C-2,5 -8,4 -8,0 Z" transform="translate(430.8 399.3) scale(0.67)" fill="none" stroke="#6a6a6a" stroke-width="0.5" vector-effect="non-scaling-stroke"/>
<path d="M-8,0 C-8,-5 -4,-7 0,-7 C5,-7 10,-4 13,0 C13,4 8,5 3,5 C-2,5 -8,4 -8,0 Z" transform="translate(430.8 399.3) scale(0.58)" fill="none" stroke="#6a6a6a" stroke-width="0.5" vector-effect="non-scaling-stroke"/>
<path d="M-8,0 C-8,-5 -4,-7 0,-7 C5,-7 10,-4 13,0 C13,4 8,5 3,5 C-2,5 -8,4 -8,0 Z" transform="translate(430.8 399.3) scale(0.5)" fill="none" stroke="#6a6a6a" stroke-width="0.5" vector-effect="non-scaling-stroke"/>
<path d="M-8,0 C-8,-5 -4,-7 0,-7 C5,-7 10,-4 13,0 C13,4 8,5 3,5 C-2,5 -8,4 -8,0 Z" transform="translate(430.8 399.3) scale(0.42)" fill="none" stroke="#6a6a6a" stroke-width="0.5" vector-effect="non-scaling-stroke"/>
<path d="M-8,0 C-8,-5 -4,-7 0,-7 C5,-7 10,-4 13,0 C13,4 8,5 3,5 C-2,5 -8,4 -8,0 Z" transform="translate(430.8 399.3) scale(0.35)" fill="none" stroke="#6a6a6a" stroke-width="0.5" vector-effect="non-scaling-stroke"/>
<path d="M-8,0 C-8,-5 -4,-7 0,-7 C5,-7 10,-4 13,0 C13,4 8,5 3,5 C-2,5 -8,4 -8,0 Z" transform="translate(430.8 399.3) scale(0.28)" fill="none" stroke="#6a6a6a" stroke-width="0.5" vector-effect="non-scaling-stroke"/>
<path d="M-8,0 C-8,-5 -4,-7 0,-7 C5,-7 10,-4 13,0 C13,4 8,5 3,5 C-2,5 -8,4 -8,0 Z" transform="translate(430.8 399.3) scale(0.21)" fill="none" stroke="#6a6a6a" stroke-width="0.5" vector-effect="non-scaling-stroke"/>
<path d="M-8,0 C-8,-5 -4,-7 0,-7 C5,-7 10,-4 13,0 C13,4 8,5 3,5 C-2,5 -8,4 -8,0 Z" transform="translate(430.8 399.3) scale(0.14)" fill="none" stroke="#6a6a6a" stroke-width="0.5" vector-effect="non-scaling-stroke"/>
<path d="M-2.5,5 C-2.5,10 -1,13 1,13 C3,13 5.5,10 5.5,5" transform="translate(431.6 398.9)" fill="none" stroke="#6a6a6a" stroke-width="0.55"/>
<path d="M-0.5,5 C-0.5,8 0,10 1,10 C2,10 3.5,8 3.5,5" transform="translate(431.6 398.9)" fill="none" stroke="#6a6a6a" stroke-width="0.55"/>
<line x1="1.5" y1="0" x2="1.5" y2="507" stroke="#bdbdbd" stroke-width="1"/>
<line x1="0" y1="1.5" x2="520" y2="1.5" stroke="#e2e2e2" stroke-width="1"/>
<line x1="518.5" y1="0" x2="518.5" y2="507" stroke="#e0e0e0" stroke-width="1"/>
<line x1="0" y1="505.5" x2="520" y2="505.5" stroke="#e6e6e6" stroke-width="1"/>
<line x1="0.5" y1="0" x2="0.5" y2="507" stroke="#4d4d4d" stroke-width="1"/>
<line x1="0" y1="0.5" x2="520" y2="0.5" stroke="#111" stroke-width="1"/>
<line x1="519.5" y1="0" x2="519.5" y2="507" stroke="#111" stroke-width="1"/>
<line x1="0" y1="506.5" x2="520" y2="506.5" stroke="#111" stroke-width="1"/>
</svg>
</body></html>
